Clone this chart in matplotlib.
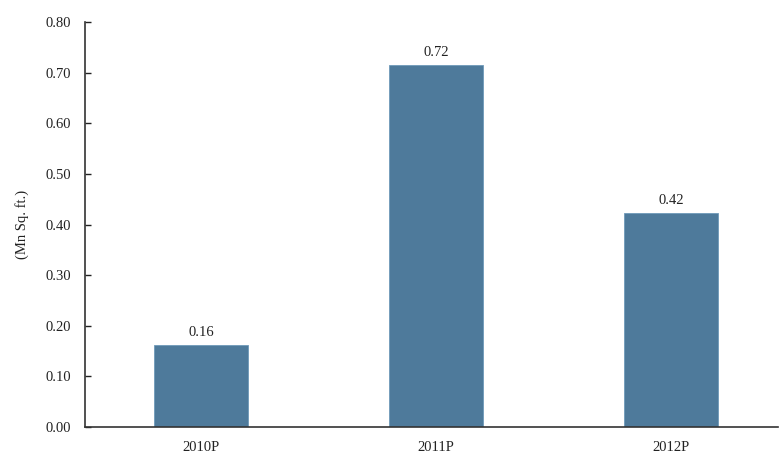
import matplotlib
matplotlib.use('Agg')
import matplotlib.pyplot as plt

years = ['2010P', '2011P', '2012P']
space_mn_sqft = [0.162, 0.715, 0.423]
value_labels = ['0.16', '0.72', '0.42']
yticks = [0.0, 0.1, 0.2, 0.3, 0.4, 0.5, 0.6, 0.7, 0.8]

plt.rcParams['font.family'] = ['Liberation Serif', 'DejaVu Serif']

fig = plt.figure(figsize=(7.82, 4.55), dpi=100)
ax = fig.add_axes([0.1087, 0.0615, 0.8863, 0.8901])

x = range(len(years))
bars = ax.bar(x, space_mn_sqft, width=0.40, color='#4E7A9B', edgecolor='#6F9ABA', linewidth=0.6)
for b, lab in zip(bars, value_labels):
    ax.text(b.get_x() + b.get_width() / 2, b.get_height() + 0.012, lab,
            ha='center', va='bottom', fontsize=10.5, color='#222222')

ax.set_xlim(-0.494, 2.455)
ax.set_ylim(0, 0.8)
ax.set_yticks(yticks)
ax.set_yticklabels([f'{v:.2f}' for v in yticks])
ax.set_xticks(list(x))
ax.set_xticklabels(years)
ax.tick_params(axis='y', direction='in', length=4, width=1, labelsize=10.5, colors='#222222', pad=10)
ax.tick_params(axis='x', length=0, labelsize=10.5, colors='#222222', pad=10)
ax.set_ylabel('(Mn Sq. ft.)', fontsize=10.5, color='#222222', labelpad=12)

for s in ['top', 'right']:
    ax.spines[s].set_visible(False)
for s in ['left', 'bottom']:
    ax.spines[s].set_color('#333333')
    ax.spines[s].set_linewidth(1.2)

fig.savefig('out.png', dpi=100)
